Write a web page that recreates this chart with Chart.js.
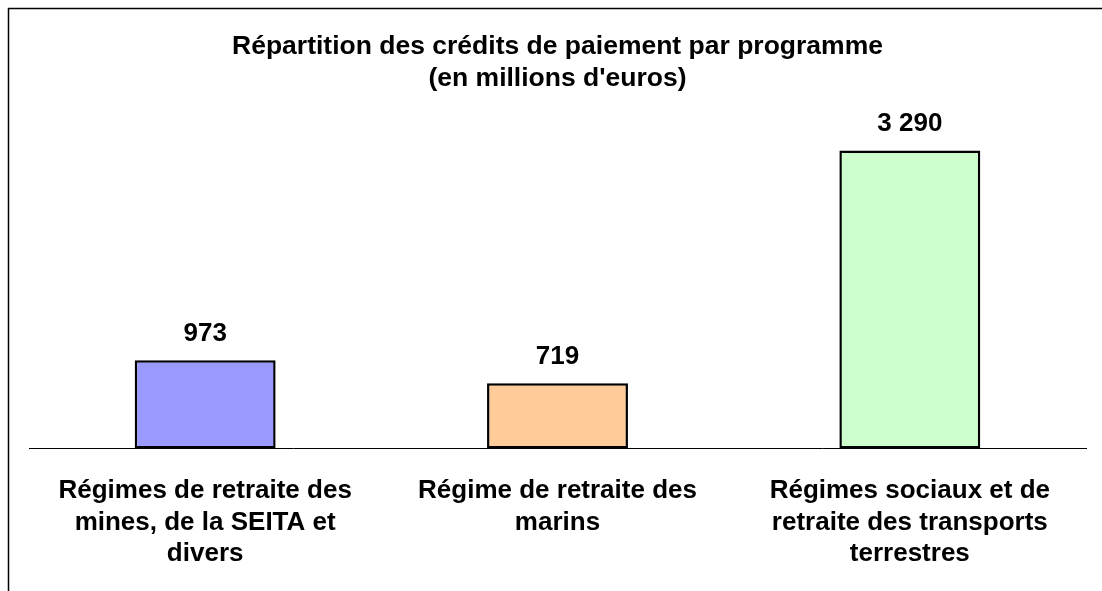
<!DOCTYPE html>
<html>
<head>
<meta charset="utf-8">
<script src="https://cdn.jsdelivr.net/npm/chart.js@4.4.1/dist/chart.umd.min.js"></script>
<style>
  html, body { margin: 0; padding: 0; background: #fff; }
  #wrap { width: 1102px; height: 591px; }
</style>
</head>
<body>
<div id="wrap"><canvas id="c" width="1102" height="591"></canvas></div>
<script>
const titleLines = ["Répartition des crédits de paiement par programme", "(en millions d'euros)"];
const categories = [
  ["Régimes de retraite des", "mines, de la SEITA et", "divers"],
  ["Régime de retraite des", "marins"],
  ["Régimes sociaux et de", "retraite des transports", "terrestres"]
];
const values = [973, 719, 3290];
const barColors = ["#9999FF", "#FFCC99", "#CCFFCC"];
const yMax = 3880;

const FONT = "'Liberation Sans', Arial, sans-serif";

function fmt(v) {
  return String(v).replace(/\B(?=(\d{3})+(?!\d))/g, " ");
}

const framePlugin = {
  id: 'frame',
  beforeDraw(chart) {
    const ctx = chart.ctx;
    ctx.save();
    ctx.fillStyle = '#fff';
    ctx.fillRect(0, 0, chart.width, chart.height);
    ctx.strokeStyle = '#000';
    ctx.lineWidth = 1.5;
    ctx.beginPath();
    ctx.moveTo(8.5, chart.height + 5);
    ctx.lineTo(8.5, 8.5);
    ctx.lineTo(chart.width + 5, 8.5);
    ctx.stroke();
    ctx.restore();
  }
};

const valueLabels = {
  id: 'valueLabels',
  afterDatasetsDraw(chart) {
    const ctx = chart.ctx;
    const meta = chart.getDatasetMeta(0);
    ctx.save();
    ctx.fillStyle = '#000';
    ctx.font = "bold 26px " + FONT;
    ctx.textAlign = 'center';
    ctx.textBaseline = 'alphabetic';
    meta.data.forEach((bar, i) => {
      ctx.fillText(fmt(chart.data.datasets[0].data[i]), bar.x, bar.y - 19);
    });
    ctx.restore();
  }
};

new Chart(document.getElementById('c'), {
  type: 'bar',
  data: {
    labels: categories,
    datasets: [{
      data: values,
      backgroundColor: barColors,
      borderColor: '#000',
      borderWidth: 2.5,
      borderSkipped: false,
      barPercentage: 0.4,
      categoryPercentage: 1.0
    }]
  },
  options: {
    responsive: false,
    animation: false,
    devicePixelRatio: 1,
    layout: { padding: { left: 29, right: 16, top: 0, bottom: -6 } },
    plugins: {
      legend: { display: false },
      tooltip: { enabled: false },
      title: {
        display: true,
        text: titleLines,
        color: '#000',
        font: { family: FONT, size: 26.5, weight: 'bold', lineHeight: 32 / 26.5 },
        padding: { top: 31, bottom: 2 }
      }
    },
    scales: {
      x: {
        grid: { display: false, drawTicks: false },
        border: { display: true, color: '#000', width: 1 },
        ticks: {
          color: '#000',
          padding: 27,
          maxRotation: 0,
          autoSkip: false,
          font: { family: FONT, size: 26, weight: 'bold', lineHeight: 31.5 / 26 }
        }
      },
      y: {
        display: false,
        min: 0,
        max: yMax
      }
    }
  },
  plugins: [framePlugin, valueLabels]
});
</script>
</body>
</html>
